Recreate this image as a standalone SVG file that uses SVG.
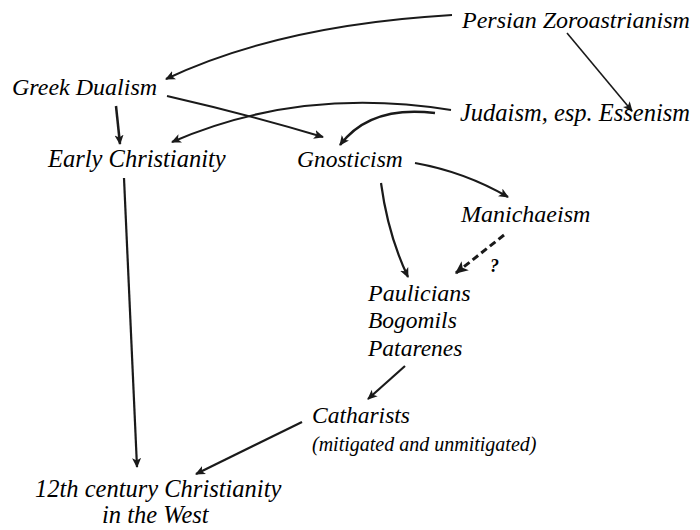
<svg xmlns="http://www.w3.org/2000/svg" width="700" height="530" viewBox="0 0 700 530">
<defs>
<marker id="ah" viewBox="0 0 10 10" refX="9" refY="5" markerWidth="10" markerHeight="10" markerUnits="userSpaceOnUse" orient="auto">
<path d="M0,0.5 L10,5 L0,9.5 L2.5,5 Z" fill="#1a1a1a"/>
</marker>
<marker id="ah2" viewBox="0 0 10 10" refX="9" refY="5" markerWidth="13" markerHeight="13" markerUnits="userSpaceOnUse" orient="auto">
<path d="M0,0.5 L10,5 L0,9.5 L2.5,5 Z" fill="#1a1a1a"/>
</marker>
</defs>
<rect width="700" height="530" fill="#fff"/>
<g id="connectors" fill="none" stroke="#1a1a1a" stroke-width="2">
<path d="M452,15 Q280,25 166,79" marker-end="url(#ah)"/>
<path d="M567,33 L632,111" stroke-width="1.6" marker-end="url(#ah)"/>
<path d="M116,106 L120,144" stroke-width="2.5" marker-end="url(#ah)"/>
<path d="M167,96 Q250,115 323,137" marker-end="url(#ah)"/>
<path d="M451,110 Q300,86 172,142" marker-end="url(#ah)"/>
<path d="M435,113 Q370,105 340,145" stroke-width="2.5" marker-end="url(#ah)"/>
<path d="M415,163 Q465,172 508,197" stroke-width="2.2" marker-end="url(#ah)"/>
<path d="M381,183 Q388,235 408,277" stroke-width="2.2" marker-end="url(#ah)"/>
<path d="M504,235 L456,273" stroke-width="3" stroke-dasharray="7,4" marker-end="url(#ah2)"/>
<path d="M405,366 L368,399" stroke-width="2.2" marker-end="url(#ah)"/>
<path d="M302,422 L196,474" stroke-width="2.2" marker-end="url(#ah)"/>
<path d="M124,178 L137,467" stroke-width="2.2" marker-end="url(#ah)"/>
</g>
<g id="persian"><text x="462" y="28" font-family="Liberation Serif, Times New Roman, serif" font-style="italic" font-size="24">Persian Zoroastrianism</text></g>
<g id="greek"><text x="12" y="95" font-family="Liberation Serif, Times New Roman, serif" font-style="italic" font-size="24">Greek Dualism</text></g>
<g id="judaism"><text x="460" y="121" font-family="Liberation Serif, Times New Roman, serif" font-style="italic" font-size="24.5">Judaism, esp. Essenism</text></g>
<g id="early"><text x="48" y="167" font-family="Liberation Serif, Times New Roman, serif" font-style="italic" font-size="24.5">Early Christianity</text></g>
<g id="gnosticism"><text x="297" y="167" font-family="Liberation Serif, Times New Roman, serif" font-style="italic" font-size="23.5">Gnosticism</text></g>
<g id="manichaeism"><text x="461" y="222" font-family="Liberation Serif, Times New Roman, serif" font-style="italic" font-size="24">Manichaeism</text></g>
<g id="question"><text x="490" y="272" font-family="Liberation Serif, Times New Roman, serif" font-style="italic" font-size="18" font-weight="bold">?</text></g>
<g id="paulicians">
<text x="368" y="301" font-family="Liberation Serif, Times New Roman, serif" font-style="italic" font-size="24">Paulicians</text>
<text x="368" y="328" font-family="Liberation Serif, Times New Roman, serif" font-style="italic" font-size="23.5">Bogomils</text>
<text x="368" y="356" font-family="Liberation Serif, Times New Roman, serif" font-style="italic" font-size="23.5">Patarenes</text>
</g>
<g id="catharists">
<text x="312" y="423" font-family="Liberation Serif, Times New Roman, serif" font-style="italic" font-size="23.5">Catharists</text>
<text x="312" y="451" font-family="Liberation Serif, Times New Roman, serif" font-style="italic" font-size="20">(mitigated and unmitigated)</text>
</g>
<g id="twelfth">
<text x="35" y="497" font-family="Liberation Serif, Times New Roman, serif" font-style="italic" font-size="24.5">12th century Christianity</text>
<text x="102" y="523" font-family="Liberation Serif, Times New Roman, serif" font-style="italic" font-size="24.5">in the West</text>
</g>
</svg>
